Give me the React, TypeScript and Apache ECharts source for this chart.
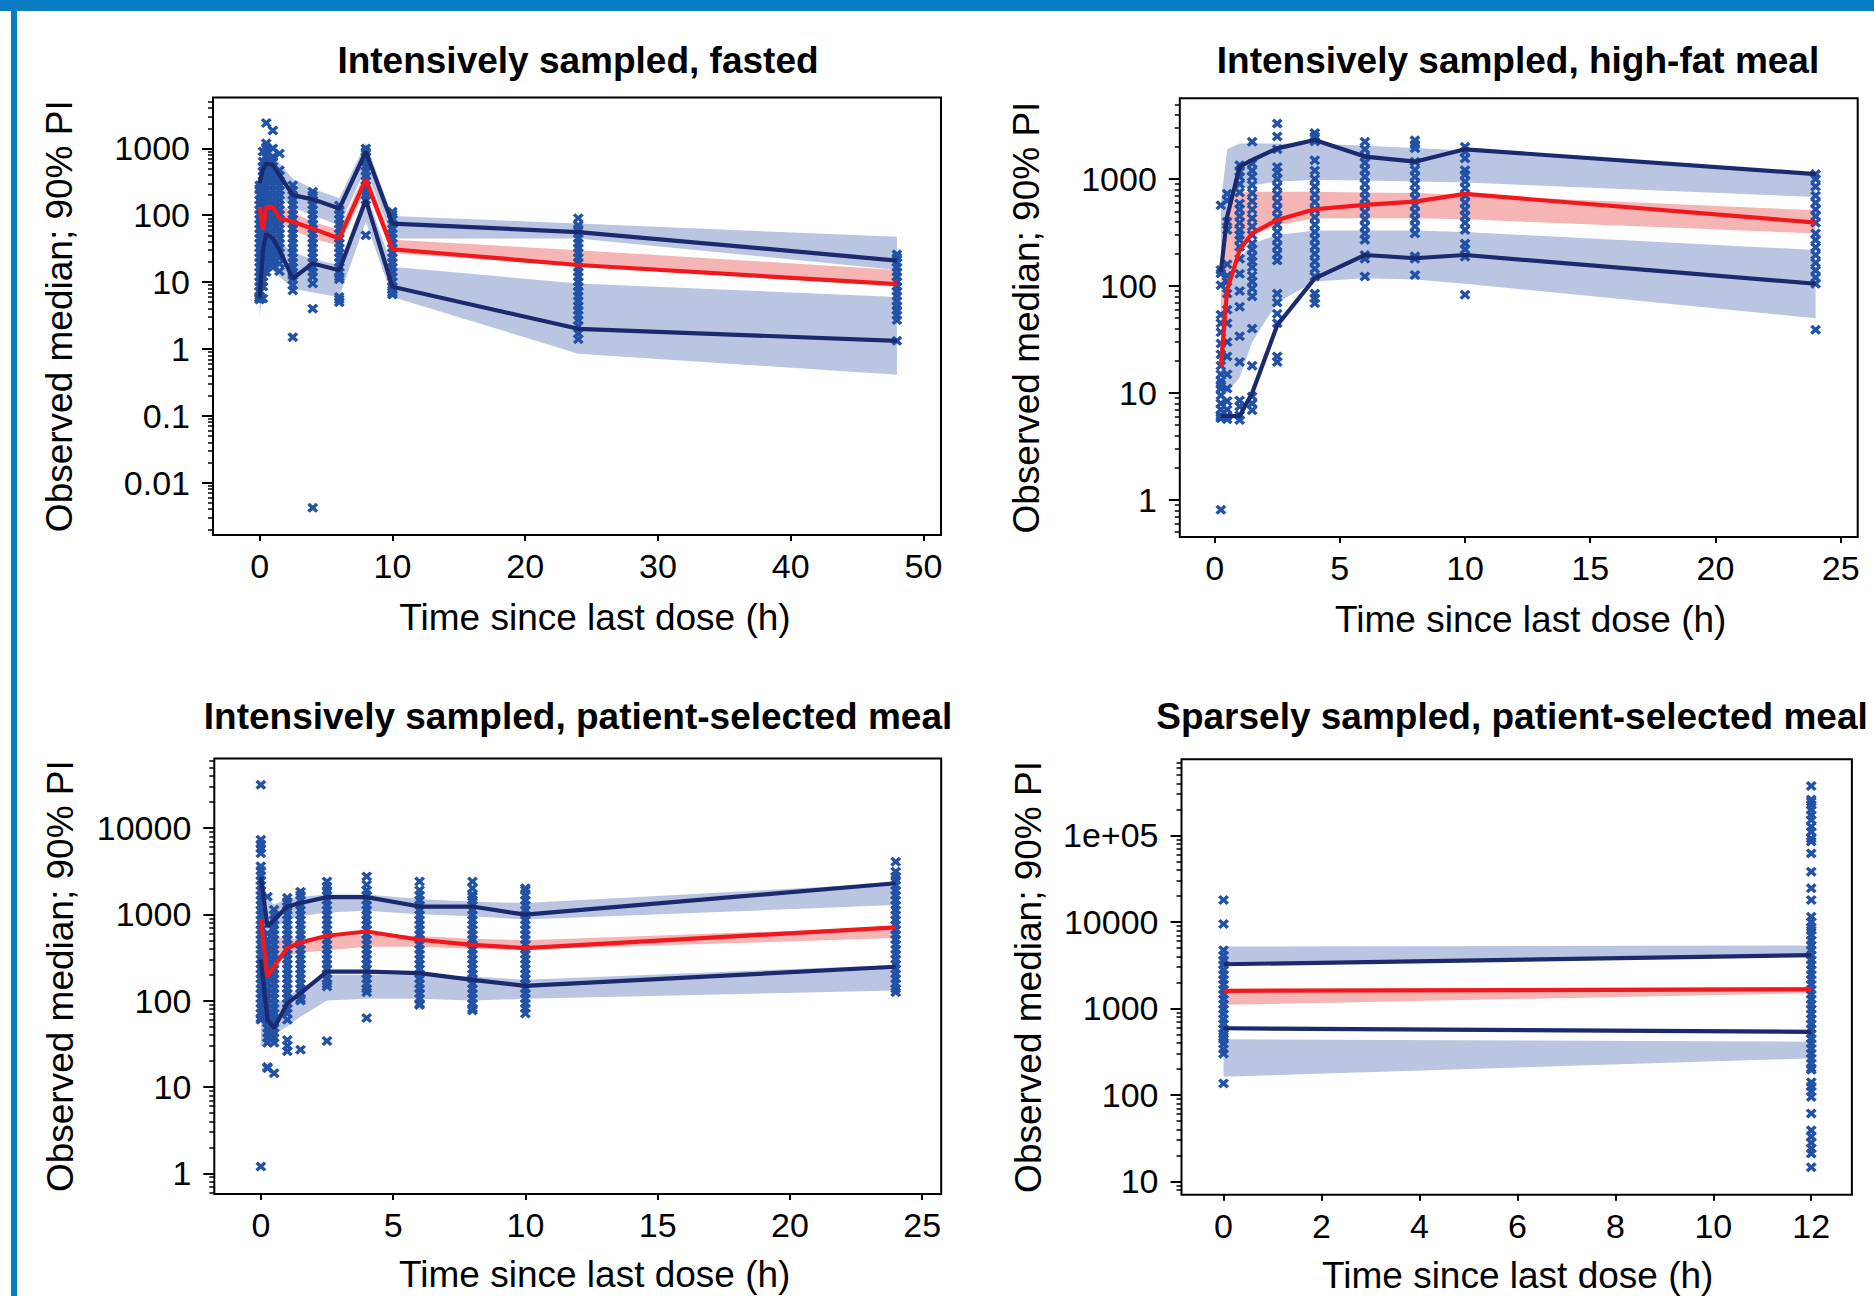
import React, { useEffect, useRef } from "react";
import * as echarts from "echarts";

const FONT = "'Liberation Sans', Arial, Helvetica, sans-serif";
const NAVY = "#1b2a6e";
const RED = "#f0181c";
const BAND_BLUE = "#bac6e1";
const BAND_RED = "#f6b5b5";
const POINT = "#2252a6";
const FRAME_BLUE = "#0a7cc4";
const Y_NAME = "Observed median; 90% PI";
const X_NAME = "Time since last dose (h)";

// ---------------- Panel 1: intensively sampled, fasted ----------------
const p1Title = "Intensively sampled, fasted";
const p1XTicks = [0, 10, 20, 30, 40, 50];
const p1YTicks = [0.01, 0.1, 1, 10, 100, 1000];
const p1YLabels = ["0.01", "0.1", "1", "10", "100", "1000"];
const p1Times = [0, 0.25, 0.5, 1, 1.5, 2.5, 4, 6, 8, 10, 24, 48];
const p1ObsP95 = [300, 474, 596, 562, 400, 200, 173, 126, 891, 75, 56, 21];
const p1ObsMedian = [134, 60, 134, 132, 90, 80, 63, 45, 344, 31, 18, 9.3];
const p1ObsP5 = [5.7, 30, 53, 45, 30, 11.3, 19, 15, 169, 8.5, 2.0, 1.32];
const p1UpperLo = [100, 200, 300, 300, 200, 130, 100, 70, 500, 45, 45, 15.2];
const p1UpperHi = [500, 900, 1000, 900, 600, 350, 250, 180, 1200, 97, 75, 47.6];
const p1MedLo = [60, 80, 90, 90, 80, 60, 45, 35, 250, 27, 17.5, 9.5];
const p1MedHi = [150, 200, 200, 180, 150, 110, 80, 60, 450, 43, 30, 15.2];
const p1LowLo = [3, 8, 15, 15, 12, 8, 7, 6, 80, 6, 0.85, 0.41];
const p1LowHi = [15, 35, 55, 50, 40, 28, 22, 18, 220, 17, 9.5, 6.0];
const p1ObsTimes = [0, 0.25, 0.5, 1, 1.5, 2.5, 4, 6, 8, 10, 24, 48];
const p1ObsValues = [
  [5.5, 5.7, 5.8, 6.2, 7.3, 8.6, 10.1, 12, 14.1, 16.7, 19.7, 23.2, 27.4, 32.3, 38.1, 45, 53.1, 62.6, 73.9, 87.2, 103, 121, 143, 169, 200, 250, 280],
  [5.7, 8.6, 10.1, 12, 14.1, 16.7, 19.7, 23.2, 27.4, 32.3, 38.1, 45, 53.1, 62.6, 73.9, 87.2, 103, 121, 143, 169, 199, 235, 278, 328, 387, 456, 538, 635, 900],
  [14.1, 16.7, 19.7, 23.2, 27.4, 32.3, 38.1, 45, 53.1, 62.6, 73.9, 87.2, 103, 121, 143, 169, 199, 235, 278, 328, 387, 456, 538, 635, 750, 885, 1044, 1190, 2400],
  [16.7, 19.7, 23.2, 27.4, 32.3, 38.1, 45, 53.1, 62.6, 73.9, 87.2, 103, 121, 143, 169, 199, 235, 278, 328, 387, 456, 538, 635, 750, 1000, 1850],
  [14.5, 19, 23.2, 27.4, 32.3, 38.1, 45, 53.1, 62.6, 73.9, 87.2, 103, 121, 143, 169, 199, 235, 278, 328, 387, 470, 840],
  [1.5, 7.5, 9, 11, 12.5, 14.1, 16.7, 19.7, 23.2, 27.4, 32.3, 38.1, 45, 53.1, 62.6, 73.9, 87.2, 103, 121, 143, 169, 199, 235, 280],
  [0.0042, 4, 9.5, 12, 14.1, 16.7, 19.7, 23.2, 27.4, 32.3, 38.1, 45, 53.1, 62.6, 73.9, 87.2, 103, 121, 143, 169, 199, 225],
  [5, 5.5, 6, 11, 12, 14.1, 16.7, 19.7, 23.2, 27.4, 32.3, 38.1, 45, 53.1, 62.6, 73.9, 87.2, 103, 121, 140],
  [50, 170, 199, 235, 278, 328, 387, 456, 538, 635, 750, 885, 1000],
  [6.5, 7, 7.6, 8.6, 10.1, 12, 14.1, 16.7, 19.7, 23.2, 27.4, 32.3, 38.1, 45, 53.1, 62.6, 73.9, 87.2, 103, 113],
  [1.4, 1.7, 2.2, 2.7, 3.2, 3.8, 4.4, 5.2, 6.2, 7.3, 8.6, 10.1, 12, 14.1, 16.7, 19.7, 23.2, 27.4, 32.3, 38.1, 45, 53.1, 62.6, 71, 90],
  [1.32, 2.7, 3.2, 3.8, 4.4, 5.2, 6.2, 7.3, 8.6, 10.1, 12, 14.1, 16.7, 19.7, 23.2, 26],
];

// ---------------- Panel 2: intensively sampled, high-fat meal ----------------
const p2Title = "Intensively sampled, high-fat meal";
const p2XTicks = [0, 5, 10, 15, 20, 25];
const p2YTicks = [1, 10, 100, 1000];
const p2YLabels = ["1", "10", "100", "1000"];
const p2Times = [0.25, 0.5, 1, 1.5, 2.5, 4, 6, 8, 10, 24];
const p2ObsP95 = [136, 445, 1306, 1507, 1936, 2322, 1622, 1454, 1897, 1113];
const p2ObsMedian = [17.7, 92, 217, 311, 415, 522, 573, 615, 726, 392];
const p2ObsP5 = [6.1, 6.1, 6.1, 10, 43, 118, 195, 182, 195, 105];
const p2UpperLo = [150, 500, 800, 870, 950, 980, 970, 950, 930, 680];
const p2UpperHi = [600, 1900, 2150, 2150, 2150, 2150, 2050, 1950, 1850, 1100];
const p2MedLo = [25, 110, 250, 300, 370, 430, 430, 430, 420, 310];
const p2MedHi = [140, 600, 750, 760, 760, 760, 750, 740, 710, 510];
const p2LowLo = [10, 10, 14, 30, 70, 110, 118, 115, 105, 50];
const p2LowHi = [60, 100, 180, 250, 300, 330, 330, 330, 320, 217];
const p2ObsTimes = [0.25, 0.5, 1, 1.5, 2.5, 4, 6, 8, 10, 24];
const p2ObsValues = [
  [0.81, 5.8, 6, 6.2, 7, 8, 9.5, 11, 12, 13, 15, 18, 23, 29, 37, 45, 54, 102, 131, 141, 570],
  [5.7, 6.1, 7, 8.4, 11, 15, 22, 30, 45, 60, 85, 110, 125, 160, 335, 400, 630, 730],
  [5.6, 6.2, 7.5, 8.5, 19.5, 34, 64, 90, 130, 180, 233, 270, 300, 335, 390, 450, 520, 590, 750, 900, 1050, 1170, 1350],
  [6.9, 8, 9.3, 18, 40, 80, 95, 110, 125, 150, 170, 190, 220, 250, 300, 360, 430, 520, 620, 740, 880, 1050, 1200, 1400, 2230],
  [19.5, 22, 45, 55, 70, 85, 173, 200, 235, 275, 320, 375, 440, 520, 610, 720, 850, 1000, 1150, 1300, 1900, 2500, 3300],
  [69, 77, 85, 123, 145, 170, 200, 235, 275, 320, 375, 440, 520, 610, 720, 850, 1000, 1200, 1500, 2250, 2500, 2700],
  [123, 180, 195, 270, 310, 360, 420, 490, 570, 660, 770, 900, 1050, 1220, 1420, 1620, 1900, 2230],
  [127, 180, 190, 310, 360, 420, 490, 570, 660, 770, 900, 1050, 1220, 1450, 1940, 2100, 2300],
  [83, 188, 220, 250, 335, 390, 450, 520, 600, 700, 820, 950, 1100, 1210, 1560, 1800, 2000],
  [39, 105, 120, 140, 165, 195, 230, 270, 310, 390, 450, 520, 600, 700, 850, 1000, 1113],
];

// ---------------- Panel 3: intensively sampled, patient-selected meal ----------------
const p3Title = "Intensively sampled, patient-selected meal";
const p3XTicks = [0, 5, 10, 15, 20, 25];
const p3YTicks = [1, 10, 100, 1000, 10000];
const p3YLabels = ["1", "10", "100", "1000", "10000"];
const p3Times = [0, 0.25, 0.5, 1, 1.5, 2.5, 4, 6, 8, 10, 24];
const p3ObsP95 = [2700, 720, 860, 1230, 1350, 1580, 1580, 1230, 1230, 990, 2290];
const p3ObsMedian = [880, 190, 248, 406, 472, 564, 632, 507, 443, 406, 707];
const p3ObsP5 = [300, 60, 48, 93, 122, 217, 217, 208, 174, 148, 247];
const p3UpperLo = [900, 500, 700, 850, 950, 1050, 1100, 1000, 950, 870, 1280];
const p3UpperHi = [3500, 1500, 1300, 1500, 1600, 1700, 1700, 1500, 1400, 1350, 2300];
const p3MedLo = [400, 250, 300, 330, 360, 380, 420, 420, 400, 390, 530];
const p3MedHi = [900, 600, 550, 520, 520, 540, 580, 560, 520, 500, 710];
const p3LowLo = [30, 30, 40, 50, 65, 100, 105, 105, 100, 105, 131];
const p3LowHi = [150, 90, 90, 110, 140, 200, 200, 200, 190, 175, 258];
const p3ObsTimes = [0, 0.25, 0.5, 1, 1.5, 2.5, 4, 6, 8, 10, 24];
const p3ObsValues = [
  [1.2, 60, 62.7, 71.4, 81.4, 92.8, 106, 121, 137, 157, 179, 204, 232, 265, 302, 344, 392, 447, 510, 581, 663, 755, 861, 982, 1119, 1276, 1455, 1658, 1890, 2155, 2457, 2801, 3193, 3600, 5100, 5800, 6500, 7300, 31600],
  [16.5, 17, 32.5, 37.1, 42.3, 48.2, 55, 62.7, 71.4, 81.4, 92.8, 106, 121, 137, 157, 179, 204, 232, 265, 302, 344, 392, 447, 510, 600, 1600],
  [14.4, 32.5, 37.1, 42.3, 48.2, 55, 62.7, 71.4, 81.4, 92.8, 106, 121, 137, 157, 179, 204, 232, 265, 302, 344, 392, 447, 510, 581, 663, 755, 861, 982, 1130],
  [26, 30, 35, 60, 71.4, 81.4, 92.8, 106, 121, 137, 157, 179, 204, 232, 265, 302, 344, 392, 447, 510, 581, 663, 755, 861, 982, 1119, 1230, 1400, 1550],
  [27, 100, 106, 121, 137, 157, 179, 204, 232, 265, 302, 344, 392, 447, 510, 581, 663, 755, 861, 982, 1119, 1276, 1455, 1658, 1830],
  [34, 146, 157, 179, 204, 232, 265, 302, 344, 392, 447, 510, 581, 663, 755, 861, 982, 1119, 1276, 1455, 1658, 1890, 2100, 2400],
  [63, 125, 137, 157, 179, 204, 232, 265, 302, 344, 392, 447, 510, 581, 663, 755, 861, 982, 1119, 1276, 1455, 1658, 1890, 2200, 2750],
  [89, 92.8, 106, 121, 137, 157, 179, 204, 232, 265, 302, 344, 392, 447, 510, 581, 663, 755, 861, 982, 1119, 1276, 1455, 1658, 1900, 2400],
  [77, 81.4, 92.8, 106, 121, 137, 157, 179, 204, 232, 265, 302, 344, 392, 447, 510, 581, 663, 755, 861, 982, 1119, 1276, 1455, 1600, 1700, 2000, 2400],
  [71, 81.4, 92.8, 106, 121, 137, 157, 179, 204, 232, 265, 302, 344, 392, 447, 510, 581, 663, 755, 861, 982, 1119, 1276, 1455, 1658, 1900, 2000],
  [125, 137, 157, 179, 204, 232, 265, 302, 344, 392, 447, 510, 581, 663, 755, 861, 982, 1119, 1276, 1455, 1658, 1890, 2155, 2500, 2750, 3120, 4070],
];

// ---------------- Panel 4: sparsely sampled, patient-selected meal ----------------
const p4Title = "Sparsely sampled, patient-selected meal";
const p4XTicks = [0, 2, 4, 6, 8, 10, 12];
const p4YTicks = [10, 100, 1000, 10000, 100000];
const p4YLabels = ["10", "100", "1000", "10000", "1e+05"];
const p4Times = [0, 12];
const p4ObsP95 = [3240, 4140];
const p4ObsMedian = [1600, 1660];
const p4ObsP5 = [590, 537];
const p4UpperLo = [3300, 4150];
const p4UpperHi = [5200, 5350];
const p4MedLo = [1100, 1500];
const p4MedHi = [1660, 1780];
const p4LowLo = [162, 265];
const p4LowHi = [440, 412];
const p4ObsTimes = [0, 12];
const p4ObsValues = [
  [136, 300, 340, 390, 440, 470, 510, 581, 663, 755, 861, 982, 1119, 1276, 1455, 1658, 1890, 2155, 2457, 2801, 3193, 3600, 4100, 4700, 9470, 17900],
  [14.6, 21, 24, 28, 33, 39, 61, 95, 110, 125, 140, 195, 204, 232, 265, 302, 344, 392, 447, 510, 581, 663, 755, 861, 982, 1119, 1276, 1455, 1658, 1890, 2155, 2457, 2801, 3193, 3640, 4150, 4730, 5390, 6150, 7010, 7990, 8700, 10000, 11500, 17900, 24500, 38000, 62000, 85000, 92000, 110000, 126000, 151000, 172000, 197000, 225000, 245000, 260000, 372000],
];

const LOG = (v: number) => Math.log10(v);

const panels = [
  {
    title: p1Title, titleX: 578, titleY: 60,
    grid: { left: 213, top: 97.4, width: 728, height: 437.6 },
    xMin: -3.51, xMax: 51.32, yMin: 0.001644, yMax: 5794,
    xTicks: p1XTicks, yTicks: p1YTicks, yLabels: p1YLabels, xNameShift: 18, xNameGap: 64, yNameGap: 135,
    times: p1Times, p95: p1ObsP95, med: p1ObsMedian, p5: p1ObsP5,
    uLo: p1UpperLo, uHi: p1UpperHi, mLo: p1MedLo, mHi: p1MedHi, lLo: p1LowLo, lHi: p1LowHi,
    obsTimes: p1ObsTimes, obsValues: p1ObsValues,
  },
  {
    title: p2Title, titleX: 1518, titleY: 60,
    grid: { left: 1179.8, top: 98.3, width: 677.9, height: 438.6 },
    xMin: -1.39, xMax: 25.68, yMin: 0.4519, yMax: 5689,
    xTicks: p2XTicks, yTicks: p2YTicks, yLabels: p2YLabels, xNameShift: 12, xNameGap: 64, yNameGap: 135,
    times: p2Times, p95: p2ObsP95, med: p2ObsMedian, p5: p2ObsP5,
    uLo: p2UpperLo, uHi: p2UpperHi, mLo: p2MedLo, mHi: p2MedHi, lLo: p2LowLo, lHi: p2LowHi,
    obsTimes: p2ObsTimes, obsValues: p2ObsValues,
  },
  {
    title: p3Title, titleX: 578, titleY: 716,
    grid: { left: 214.3, top: 758.4, width: 726.9, height: 435.5 },
    xMin: -1.76, xMax: 25.72, yMin: 0.5768, yMax: 63973,
    xTicks: p3XTicks, yTicks: p3YTicks, yLabels: p3YLabels, xNameShift: 17, xNameGap: 62, yNameGap: 135,
    times: p3Times, p95: p3ObsP95, med: p3ObsMedian, p5: p3ObsP5,
    uLo: p3UpperLo, uHi: p3UpperHi, mLo: p3MedLo, mHi: p3MedHi, lLo: p3LowLo, lHi: p3LowHi,
    obsTimes: p3ObsTimes, obsValues: p3ObsValues,
  },
  {
    title: p4Title, titleX: 1512, titleY: 716,
    grid: { left: 1181.5, top: 759.2, width: 670.4, height: 435.5 },
    xMin: -0.858, xMax: 12.83, yMin: 7.03, yMax: 760326,
    xTicks: p4XTicks, yTicks: p4YTicks, yLabels: p4YLabels, xNameShift: 1, xNameGap: 62, yNameGap: 135,
    times: p4Times, p95: p4ObsP95, med: p4ObsMedian, p5: p4ObsP5,
    uLo: p4UpperLo, uHi: p4UpperHi, mLo: p4MedLo, mHi: p4MedHi, lLo: p4LowLo, lHi: p4LowHi,
    obsTimes: p4ObsTimes, obsValues: p4ObsValues,
  },
];

const X_SYMBOL =
  "path://M0,2.3 L2.3,0 L5,2.7 L7.7,0 L10,2.3 L7.3,5 L10,7.7 L7.7,10 L5,7.3 L2.3,10 L0,7.7 L2.7,5 Z";

function minorTicks(minV: number, maxV: number): number[] {
  const lo = LOG(minV);
  const hi = LOG(maxV);
  const out: number[] = [];
  for (let n = Math.floor(lo); n <= Math.ceil(hi); n++) {
    for (let k = 2; k <= 9; k++) {
      const v = n + LOG(k);
      if (v > lo && v < hi) out.push(v);
    }
  }
  return out;
}

function bandSeries(i: number, times: number[], lo: number[], hi: number[], color: string) {
  return {
    type: "custom",
    xAxisIndex: i,
    yAxisIndex: i,
    silent: true,
    z: 1,
    clip: true,
    data: [[times[0], LOG(lo[0])]],
    renderItem: (params: any, api: any) => {
      const pts: number[][] = [];
      for (let k = 0; k < times.length; k++) pts.push(api.coord([times[k], LOG(hi[k])]));
      for (let k = times.length - 1; k >= 0; k--) pts.push(api.coord([times[k], LOG(lo[k])]));
      return { type: "polygon", shape: { points: pts }, style: { fill: color } };
    },
  };
}

function lineSeries(i: number, times: number[], vals: number[], color: string, z: number, width: number) {
  return {
    type: "line",
    xAxisIndex: i,
    yAxisIndex: i,
    silent: true,
    z,
    symbol: "none",
    data: times.map((t, k) => [t, LOG(vals[k])]),
    lineStyle: { color, width },
  };
}

function buildOption() {
  const grid = panels.map((p) => ({
    left: p.grid.left,
    top: p.grid.top,
    width: p.grid.width,
    height: p.grid.height,
    show: true,
    borderColor: "#000",
    borderWidth: 2,
    backgroundColor: "transparent",
    containLabel: false,
    outerBoundsMode: "none",
  }));
  const xAxis = panels.map((p, i) => ({
    gridIndex: i,
    type: "value",
    position: "bottom",
    min: p.xMin,
    max: p.xMax,
    axisLine: { show: false, onZero: false },
    splitLine: { show: false },
    axisTick: { show: true, customValues: p.xTicks, length: 6, lineStyle: { color: "#000", width: 2 } },
    axisLabel: { customValues: p.xTicks, margin: 14, fontSize: 34, color: "#000", fontFamily: FONT },
    name: X_NAME,
    nameLocation: "middle",
    nameGap: p.xNameGap,
    nameTextStyle: {
      fontSize: 37,
      color: "#000",
      fontFamily: FONT,
      padding: [0, 0, 0, p.xNameShift * 2],
    },
  }));
  const yMain = panels.map((p, i) => {
    const tickLogs = p.yTicks.map(LOG);
    return {
      gridIndex: i,
      type: "value",
      position: "left",
      offset: 0,
      min: LOG(p.yMin),
      max: LOG(p.yMax),
      axisLine: { show: false, onZero: false },
      splitLine: { show: false },
      axisTick: { show: true, customValues: tickLogs, length: 11, lineStyle: { color: "#000", width: 2 } },
      axisLabel: {
        customValues: tickLogs,
        margin: 23,
        fontSize: 34,
        color: "#000",
        fontFamily: FONT,
        formatter: (v: number) => {
          for (let k = 0; k < tickLogs.length; k++) {
            if (Math.abs(tickLogs[k] - v) < 1e-6) return p.yLabels[k];
          }
          return "";
        },
      },
      name: Y_NAME,
      nameLocation: "middle",
      nameGap: p.yNameGap,
      nameTextStyle: { fontSize: 37, color: "#000", fontFamily: FONT },
    };
  });
  const yMinor = panels.map((p, i) => ({
    gridIndex: i,
    type: "value",
    position: "left",
    offset: 0,
    min: LOG(p.yMin),
    max: LOG(p.yMax),
    axisLine: { show: false, onZero: false },
    splitLine: { show: false },
    axisLabel: { show: false },
    axisTick: { show: true, customValues: minorTicks(p.yMin, p.yMax), length: 5, lineStyle: { color: "#000", width: 1.5 } },
  }));

  const series: any[] = [];
  panels.forEach((p, i) => {
    series.push(bandSeries(i, p.times, p.uLo, p.uHi, BAND_BLUE));
    series.push(bandSeries(i, p.times, p.lLo, p.lHi, BAND_BLUE));
    series.push(bandSeries(i, p.times, p.mLo, p.mHi, BAND_RED));
    const pts: number[][] = [];
    p.obsTimes.forEach((t, k) => p.obsValues[k].forEach((v) => pts.push([t, LOG(v)])));
    series.push({
      type: "scatter",
      xAxisIndex: i,
      yAxisIndex: i,
      silent: true,
      z: 2,
      symbol: X_SYMBOL,
      symbolSize: [11, 10],
      itemStyle: { color: POINT, opacity: 1 },
      data: pts,
    });
    series.push(lineSeries(i, p.times, p.p95, NAVY, 3, 4.2));
    series.push(lineSeries(i, p.times, p.p5, NAVY, 3, 4.2));
    series.push(lineSeries(i, p.times, p.med, RED, 4, 4.2));
  });

  const graphic: any[] = [
    { type: "rect", silent: true, shape: { x: 0, y: 0, width: 1874, height: 11 }, style: { fill: FRAME_BLUE } },
    { type: "rect", silent: true, shape: { x: 11, y: 0, width: 6, height: 1296 }, style: { fill: FRAME_BLUE } },
  ];
  panels.forEach((p) => {
    graphic.push({
      type: "text",
      silent: true,
      x: p.titleX,
      y: p.titleY,
      style: {
        text: p.title,
        fill: "#000",
        fontSize: 37,
        fontWeight: "bold",
        fontFamily: FONT,
        align: "center",
        verticalAlign: "middle",
      },
    });
  });

  return {
    animation: false,
    backgroundColor: "#ffffff",
    grid,
    xAxis,
    yAxis: [...yMain, ...yMinor],
    series,
    graphic,
  };
}

export default function App() {
  const ref = useRef<HTMLDivElement>(null);
  useEffect(() => {
    if (!ref.current) return;
    const chart = echarts.init(ref.current, null, { renderer: "svg" });
    chart.setOption(buildOption() as any);
    return () => chart.dispose();
  }, []);
  return (
    <div
      ref={ref}
      style={{ position: "fixed", left: 0, top: 0, width: 1874, height: 1296, background: "#fff" }}
    />
  );
}
